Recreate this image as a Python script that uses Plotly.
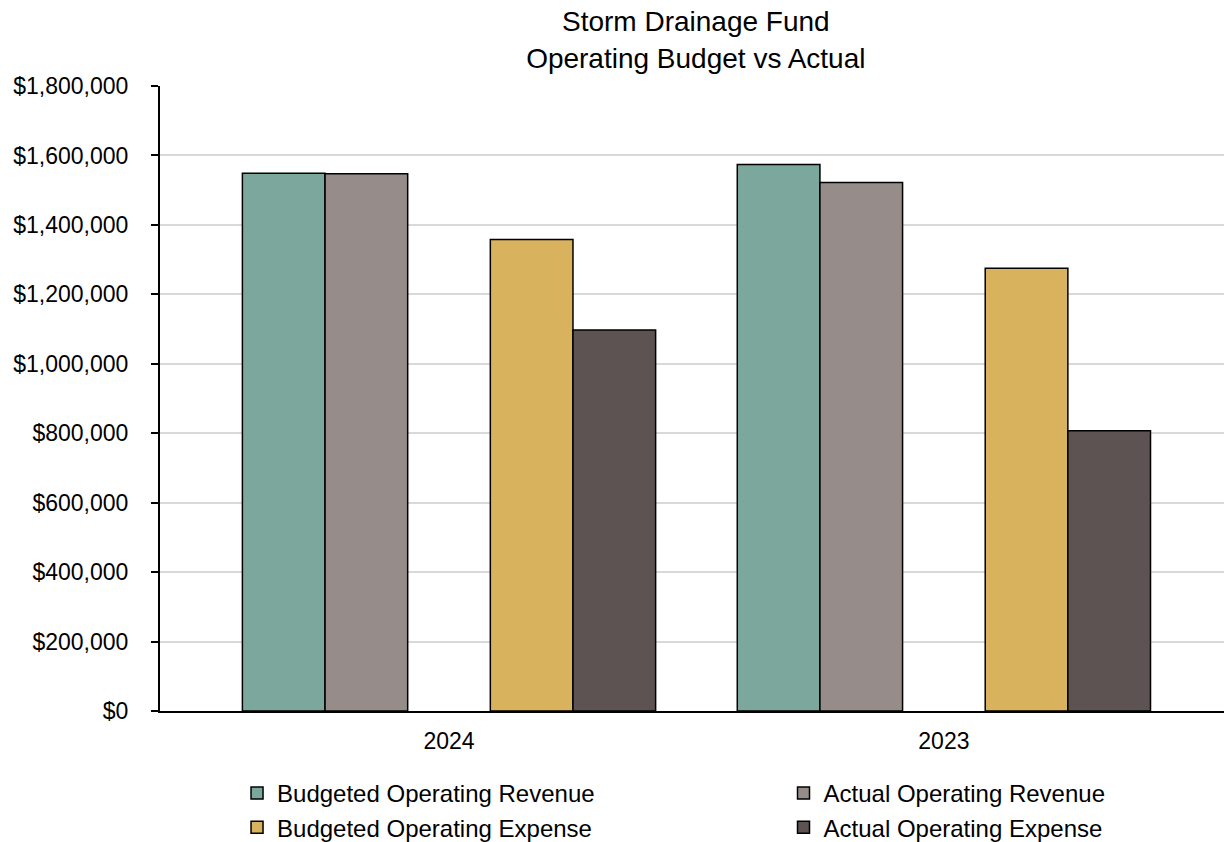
import plotly.graph_objects as go

# Fiscal years shown on the category axis
years = ["2024", "2023"]

# Operating figures (USD)
budgeted_revenue = [1549000, 1574000]
actual_revenue = [1547000, 1522000]
budgeted_expense = [1358000, 1275000]
actual_expense = [1097000, 807000]

# y-axis ticks
tick_values = [0, 200000, 400000, 600000, 800000, 1000000, 1200000, 1400000, 1600000, 1800000]
tick_labels = ["$0", "$200,000", "$400,000", "$600,000", "$800,000", "$1,000,000",
               "$1,200,000", "$1,400,000", "$1,600,000", "$1,800,000"]

FONT = "Liberation Sans, Arial, sans-serif"
edge = dict(color="#000000", width=1.5)

fig = go.Figure()
fig.add_trace(go.Bar(name="Budgeted Operating Revenue", x=years, y=budgeted_revenue,
                     legend="legend", marker=dict(color="#7BA79D", line=edge)))
fig.add_trace(go.Bar(name="Actual Operating Revenue", x=years, y=actual_revenue,
                     legend="legend2", marker=dict(color="#968C8A", line=edge)))
# blank slot separating revenue and expense bars
fig.add_trace(go.Bar(name=" ", x=years, y=[None, None], showlegend=False,
                     marker=dict(color="rgba(0,0,0,0)", line=dict(width=0)),
                     hoverinfo="skip"))
fig.add_trace(go.Bar(name="Budgeted Operating Expense", x=years, y=budgeted_expense,
                     legend="legend", marker=dict(color="#D8B25C", line=edge)))
fig.add_trace(go.Bar(name="Actual Operating Expense", x=years, y=actual_expense,
                     legend="legend2", marker=dict(color="#5D5353", line=edge)))

legend_style = dict(orientation="v", yanchor="top", y=-0.096, xanchor="left",
                    itemwidth=30, bgcolor="rgba(0,0,0,0)", traceorder="normal",
                    font=dict(family=FONT, size=24, color="#000000"))

fig.update_layout(
    width=1225, height=842,
    margin=dict(l=160, r=1, t=86, b=131, autoexpand=False),
    paper_bgcolor="white", plot_bgcolor="white",
    barmode="group", bargap=0.165, bargroupgap=0,
    font=dict(family=FONT, size=23, color="#000000"),
    title=dict(text="Storm Drainage Fund<br>Operating Budget vs Actual",
               x=0.568, xanchor="center", y=0.963, yanchor="top",
               font=dict(family=FONT, size=28, color="#000000")),
    legend=dict(legend_style, x=0.0724),
    legend2=dict(legend_style, x=0.586),
    showlegend=True,
)

fig.update_xaxes(
    type="category", range=[-0.584, 1.566],
    showline=True, linecolor="#000000", linewidth=2,
    showgrid=False, ticks="", ticklabelstandoff=8,
    tickfont=dict(family=FONT, size=23, color="#000000"),
)
fig.update_yaxes(
    range=[0, 1800000], tickvals=tick_values, ticktext=tick_labels,
    showline=True, linecolor="#000000", linewidth=2,
    showgrid=True, gridcolor="#D9D9D9", gridwidth=2,
    ticks="outside", ticklen=7, tickcolor="#000000", tickwidth=2,
    ticklabelstandoff=18, zeroline=False,
    tickfont=dict(family=FONT, size=23, color="#000000"),
)

fig.write_html("out.html")
